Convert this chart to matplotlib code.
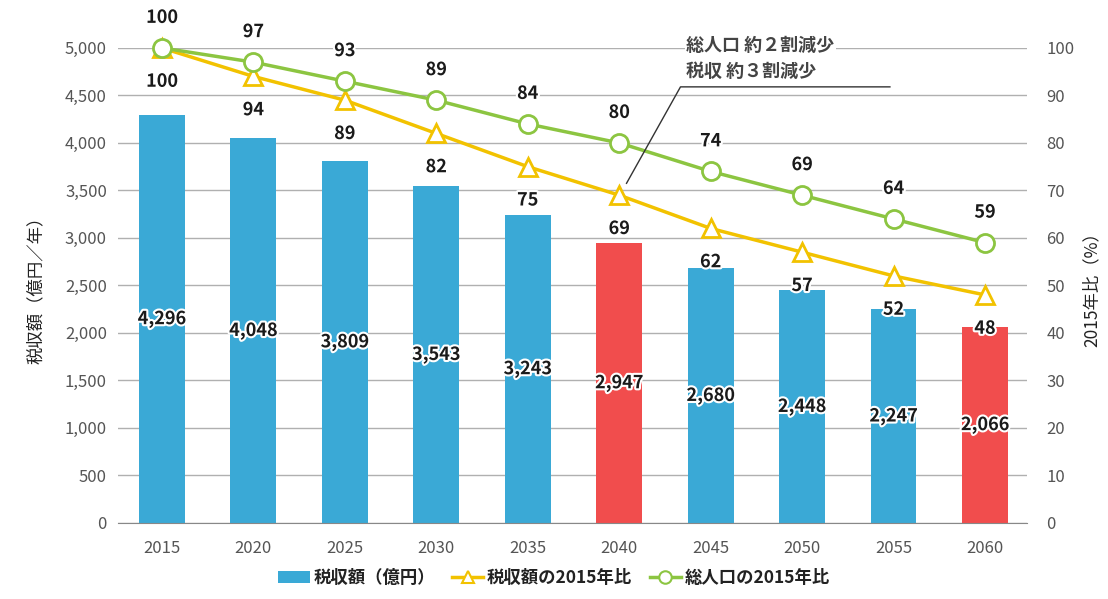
import matplotlib.pyplot as plt
import matplotlib.patheffects as pe
from matplotlib.lines import Line2D
from matplotlib.patches import Patch
import numpy as np

plt.rcParams['font.family'] = ['Noto Sans CJK JP', 'DejaVu Sans']

years = ['2015', '2020', '2025', '2030', '2035', '2040', '2045', '2050', '2055', '2060']
tax = [4296, 4048, 3809, 3543, 3243, 2947, 2680, 2448, 2247, 2066]
tax_ratio = [100, 94, 89, 82, 75, 69, 62, 57, 52, 48]
pop_ratio = [100, 97, 93, 89, 84, 80, 74, 69, 64, 59]
highlight = ['2040', '2060']

blue = '#3aa9d6'
red = '#f14d4d'
yellow = '#f2c200'
green = '#8cc541'
grey_txt = '#555555'

fig = plt.figure(figsize=(11.08, 5.99), dpi=100)
ax = fig.add_axes([0.1065, 0.127, 0.8205, 0.793])
ax2 = ax.twinx()

x = np.arange(len(years))
colors = [red if y in highlight else blue for y in years]
ax.bar(x, tax, width=0.5, color=colors, zorder=2)

ax.set_xlim(-0.48, 9.46)
ax.set_ylim(0, 5000)
ax.set_yticks(range(0, 5001, 500))
ax.set_yticklabels([f'{v:,}' for v in range(0, 5001, 500)])
ax.set_xticks(x)
ax.set_xticklabels(years)
ax.grid(axis='y', color='#b0b0b0', linewidth=1, zorder=0)
ax.set_axisbelow(True)
for s in ['top', 'left', 'right']:
    ax.spines[s].set_visible(False)
ax.spines['bottom'].set_color('#888888')
ax.tick_params(axis='both', length=0, colors=grey_txt, labelsize=12)
ax.tick_params(axis='x', pad=12)
ax.tick_params(axis='y', pad=8)
ax.set_ylabel('税収額（億円／年）', fontsize=12.5, color='#222222', labelpad=14)

stroke = [pe.withStroke(linewidth=3, foreground='white')]
for xi, v in zip(x, tax):
    ax.text(xi, v / 2, f'{v:,}', ha='center', va='center', fontsize=13,
            fontweight='bold', color='#1a1a1a', path_effects=stroke, zorder=5)

ax2.set_ylim(0, 100)
ax2.set_yticks(range(0, 101, 10))
for s in ['top', 'left', 'right', 'bottom']:
    ax2.spines[s].set_visible(False)
ax2.tick_params(axis='y', length=0, colors=grey_txt, labelsize=12, pad=14)
ax2.set_ylabel('2015年比（%）', fontsize=12.5, color='#222222', labelpad=6)

ax2.plot(x, tax_ratio, color=yellow, linewidth=2.5, marker='^', markersize=13,
         markerfacecolor='white', markeredgecolor=yellow, markeredgewidth=2,
         clip_on=False, zorder=3)
ax2.plot(x, pop_ratio, color=green, linewidth=2.5, marker='o', markersize=13,
         markerfacecolor='white', markeredgecolor=green, markeredgewidth=2,
         clip_on=False, zorder=4)

for xi, v in zip(x, tax_ratio):
    ax2.annotate(str(v), (xi, v), xytext=(0, -24), textcoords='offset points',
                 ha='center', va='center', fontsize=13, fontweight='bold',
                 color='#1a1a1a', path_effects=stroke, zorder=6)
for xi, v in zip(x, pop_ratio):
    ax2.annotate(str(v), (xi, v), xytext=(0, 22), textcoords='offset points',
                 ha='center', va='center', fontsize=13, fontweight='bold',
                 color='#1a1a1a', path_effects=stroke, zorder=6)

# callout
ax2.plot([5.08, 5.67, 7.96], [71.5, 91.8, 91.8], color='#333333', linewidth=1,
         clip_on=False, zorder=6)
ax2.text(5.73, 100.6, '総人口 約２割減少', fontsize=13, color='#444444',
         va='center', ha='left', fontweight='bold',
         bbox=dict(facecolor='white', edgecolor='none', pad=1), zorder=6)
ax2.text(5.73, 95.0, '税収 約３割減少', fontsize=13, color='#444444',
         va='center', ha='left', fontweight='bold', zorder=6)

handles = [
    Patch(facecolor=blue, edgecolor='none'),
    Line2D([0], [0], color=yellow, linewidth=2.5, marker='^', markersize=9,
           markerfacecolor='white', markeredgecolor=yellow, markeredgewidth=1.5),
    Line2D([0], [0], color=green, linewidth=2.5, marker='o', markersize=9,
           markerfacecolor='white', markeredgecolor=green, markeredgewidth=1.5),
]
labels = ['税収額（億円）', '税収額の2015年比', '総人口の2015年比']
leg = fig.legend(handles, labels, loc='center', bbox_to_anchor=(0.5, 0.035),
                 ncol=3, frameon=False, fontsize=12.5, handlelength=1.8,
                 handletextpad=0.2, columnspacing=1.0)
for t in leg.get_texts():
    t.set_fontweight('bold')
    t.set_color('#222222')

fig.savefig('out.png', dpi=100)
